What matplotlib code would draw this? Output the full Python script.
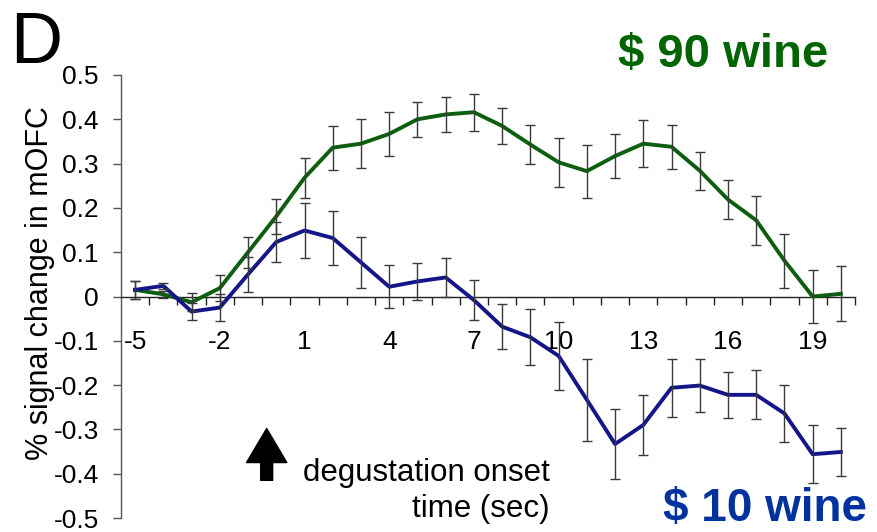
# Required imports
import matplotlib
matplotlib.use('Agg')
import matplotlib.pyplot as plt

plt.rcParams['font.family'] = ['Liberation Sans', 'DejaVu Sans']

# Time points (sec) relative to degustation onset
time_sec = list(range(-5, 21))

# $90 wine: mean % signal change and error
wine90_mean = [0.015, 0.005, -0.013, 0.019, 0.10, 0.181, 0.268, 0.336, 0.345, 0.367,
               0.40, 0.411, 0.416, 0.385, 0.343, 0.303, 0.283, 0.317, 0.345, 0.338,
               0.284, 0.219, 0.172, 0.081, 0.0, 0.006]
wine90_err = [0.02, 0.008, 0.02, 0.03, 0.035, 0.04, 0.045, 0.05, 0.056, 0.049,
              0.04, 0.039, 0.042, 0.04, 0.045, 0.055, 0.06, 0.05, 0.053, 0.05,
              0.043, 0.043, 0.055, 0.061, 0.06, 0.062]

# $10 wine: mean % signal change and error
wine10_mean = [0.015, 0.024, -0.034, -0.025, 0.05, 0.123, 0.149, 0.132, 0.077, 0.022,
               0.034, 0.043, -0.008, -0.068, -0.092, -0.134, -0.233, -0.333, -0.29, -0.206,
               -0.201, -0.222, -0.222, -0.264, -0.356, -0.351]
wine10_err = [0.02, 0.007, 0.02, 0.03, 0.04, 0.045, 0.062, 0.061, 0.057, 0.048,
              0.042, 0.045, 0.046, 0.05, 0.063, 0.077, 0.093, 0.08, 0.068, 0.065,
              0.06, 0.052, 0.055, 0.064, 0.066, 0.055]

# Axis tick values and labels
x_label_ticks = [-5, -2, 1, 4, 7, 10, 13, 16, 19]
y_ticks = [0.5, 0.4, 0.3, 0.2, 0.1, 0.0, -0.1, -0.2, -0.3, -0.4, -0.5]
y_tick_labels = ['0.5', '0.4', '0.3', '0.2', '0.1', '0', '-0.1', '-0.2', '-0.3', '-0.4', '-0.5']

green = '#0e5e10'
navy = '#15158a'

fig = plt.figure(figsize=(8.77, 5.32), dpi=100)
ax = fig.add_axes([121 / 877, 1 - 518 / 532, (855 - 121) / 877, (518 - 75) / 532])

# Lines
ax.plot(time_sec, wine90_mean, color=green, lw=2.8, zorder=3, solid_joinstyle='round')
ax.plot(time_sec, wine10_mean, color=navy, lw=2.8, zorder=3, solid_joinstyle='round')

# Error bars on top of the lines
for mean, err in [(wine90_mean, wine90_err), (wine10_mean, wine10_err)]:
    ax.errorbar(time_sec, mean, yerr=err, fmt='none', ecolor='#3a3a3a',
                elinewidth=1.0, capsize=3.5, capthick=1.0, zorder=4)

# Axes styling
ax.set_xlim(-5.5, 20.5)
ax.set_ylim(-0.5, 0.5)
for side in ['top', 'right']:
    ax.spines[side].set_visible(False)
ax.spines['bottom'].set_position(('data', 0))
ax.spines['left'].set_color('#555555')
ax.spines['bottom'].set_color('#222222')
ax.spines['left'].set_linewidth(1.0)
ax.spines['bottom'].set_linewidth(1.0)

ax.set_yticks(y_ticks)
ax.set_yticklabels(y_tick_labels)
ax.tick_params(axis='y', direction='out', length=6, width=1.0, color='#555555',
               labelsize=19, pad=10)

ax.set_xticks(x_label_ticks)
ax.set_xticklabels([str(t) for t in x_label_ticks])
ax.set_xticks([t + 0.5 for t in time_sec], minor=True)
ax.tick_params(axis='x', which='major', length=0, labelsize=19, pad=24)
ax.tick_params(axis='x', which='minor', direction='out', length=6, width=1.0, color='#222222')

ax.set_ylabel('% signal change in mOFC', fontsize=22)
ax.yaxis.set_label_coords(-0.09, 0.53)

# Onset arrow and annotation
ax.annotate('', xy=(-0.34, -0.298), xytext=(-0.34, -0.415),
            arrowprops=dict(arrowstyle='simple,head_width=2.9,head_length=2.45,tail_width=0.86',
                            color='black', mutation_scale=10, shrinkA=0, shrinkB=0))
fig.text(550 / 877, 1 - 517 / 532, 'degustation onset\ntime (sec)', fontsize=22.5,
         ha='right', va='baseline', multialignment='right', linespacing=1.26)

# Panel letter and series labels
fig.text(10 / 877, 1 - 63 / 532, 'D', fontsize=52, ha='left', va='baseline')
fig.text(618 / 877, 1 - 67 / 532, '$ 90 wine', fontsize=34, fontweight='bold',
         color='#006400', ha='left', va='baseline')
fig.text(663 / 877, 1 - 521 / 532, '$ 10 wine', fontsize=33, fontweight='bold',
         color='#0033a0', ha='left', va='baseline')

fig.savefig('out.png', dpi=100)
plt.close(fig)
